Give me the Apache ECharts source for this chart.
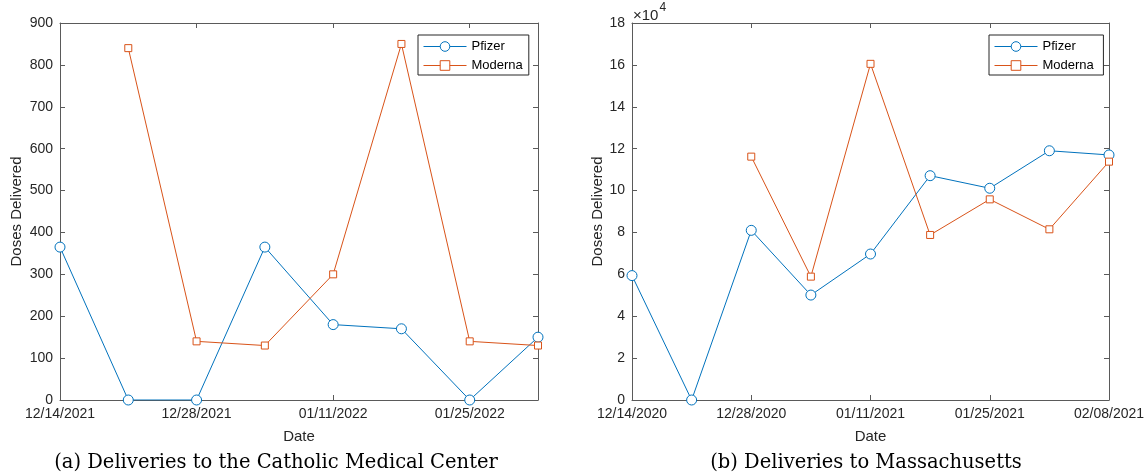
<!DOCTYPE html>
<html>
<head>
<meta charset="utf-8">
<script src="https://cdn.jsdelivr.net/npm/echarts@6/dist/echarts.min.js"></script>
<style>
html,body{margin:0;padding:0;background:#fff;}
#chart{width:1148px;height:475px;}
</style>
</head>
<body>
<div id="chart"></div>
<script>
// ---- data ----
const datesA = ['12/14/2021','12/21/2021','12/28/2021','01/04/2022','01/11/2022','01/18/2022','01/25/2022','02/01/2022'];
const pfizerA = [365, 0, 0, 365, 180, 170, 0, 150];
const modernaA = [null, 840, 140, 130, 300, 850, 140, 130];

const datesB = ['12/14/2020','12/21/2020','12/28/2020','01/04/2021','01/11/2021','01/18/2021','01/25/2021','02/01/2021','02/08/2021'];
const pfizerB = [59400, 0, 81000, 50100, 69700, 107100, 101100, 119000, 117000];
const modernaB = [null, null, 116200, 58900, 160500, 78800, 95800, 81500, 113800];

const yTicksA = {min: 0, max: 900, interval: 100};
const yTicksB = {min: 0, max: 180000, interval: 20000};

const captionA = '(a) Deliveries to the Catholic Medical Center';
const captionB = '(b) Deliveries to Massachusetts';

// ---- styles ----
const AX = '#5a5a5a';
const TXT = '#262626';
const BLUE = '#0072BD';
const RED = '#D95319';
const FONT = '"Liberation Sans", Arial, sans-serif';

function xAx(grid, data, top) {
  return {
    type: 'category', gridIndex: grid, data: data, boundaryGap: false,
    position: top ? 'top' : 'bottom',
    name: top ? '' : 'Date', nameLocation: 'middle', nameGap: 29,
    nameTextStyle: {color: TXT, fontSize: 15, fontFamily: FONT},
    axisLine: {show: true, onZero: false, lineStyle: {color: AX, width: 1}},
    axisTick: {show: true, inside: true, length: 5, interval: 1, lineStyle: {color: AX}},
    axisLabel: {show: !top, interval: 1, margin: 7, color: TXT, fontSize: 14, fontFamily: FONT},
    splitLine: {show: false}
  };
}
function yAx(grid, t, right, fmt, gap) {
  return {
    type: 'value', gridIndex: grid, min: t.min, max: t.max, interval: t.interval,
    position: right ? 'right' : 'left',
    name: right ? '' : 'Doses Delivered', nameLocation: 'middle', nameGap: gap,
    nameTextStyle: {color: TXT, fontSize: 15, fontFamily: FONT},
    axisLine: {show: true, onZero: false, lineStyle: {color: AX, width: 1}},
    axisTick: {show: true, inside: true, length: 5, lineStyle: {color: AX}},
    axisLabel: {show: !right, margin: 7, color: TXT, fontSize: 14, fontFamily: FONT, formatter: fmt},
    splitLine: {show: false}
  };
}
function ser(name, data, xi, yi, color, symbol, size) {
  return {
    type: 'line', name: name, data: data, xAxisIndex: xi, yAxisIndex: yi,
    symbol: symbol, symbolSize: size, showAllSymbol: true,
    lineStyle: {color: color, width: 1},
    itemStyle: {color: '#fff', borderColor: color, borderWidth: 1},
    emphasis: {disabled: true}
  };
}
function legend(left, names) {
  return {
    orient: 'vertical', left: left, top: 35,
    data: names,
    padding: [5, 6, 3, 5], itemGap: 6, itemWidth: 43, itemHeight: 12,
    borderColor: '#262626', borderWidth: 1, backgroundColor: '#fff',
    lineStyle: {width: 1},
    itemStyle: {borderWidth: 1},
    textStyle: {color: '#000', fontSize: 13, fontFamily: FONT},
    selectedMode: false
  };
}
const capStyle = {fontFamily: '"DejaVu Serif", serif', fontWeight: 'normal', fontSize: 19.5, color: '#000'};

const option = {
  animation: false,
  backgroundColor: '#fff',
  grid: [
    {left: 60, top: 23, width: 478, height: 377},
    {left: 632, top: 23, width: 477, height: 377}
  ],
  xAxis: [xAx(0, datesA, false), xAx(0, datesA, true), xAx(1, datesB, false), xAx(1, datesB, true)],
  yAxis: [
    yAx(0, yTicksA, false, null, 36),
    yAx(0, yTicksA, true, null, 36),
    yAx(1, yTicksB, false, v => String(v / 10000), 27),
    yAx(1, yTicksB, true, null, 27)
  ],
  legend: [
    legend(418, ['Pfizer', 'Moderna']),
    legend(989, ['Pfizer ', 'Moderna '])
  ],
  title: [
    {text: captionA, left: 276, top: 453, padding: 0, textAlign: 'center', textStyle: capStyle},
    {text: captionB, left: 866, top: 453, padding: 0, textAlign: 'center', textStyle: capStyle},
    {text: '{a|×10}{b|4}', left: 633, top: 2, padding: 0,
     textStyle: {fontWeight: 'normal', rich: {
       a: {fontFamily: FONT, fontSize: 15, fontWeight: 'normal', color: TXT, verticalAlign: 'bottom', padding: [6,0,0,0]},
       b: {fontFamily: FONT, fontSize: 12, fontWeight: 'normal', color: TXT, verticalAlign: 'top', padding: [0,0,0,1]}
     }}}
  ],
  series: [
    ser('Pfizer', pfizerA, 0, 0, BLUE, 'circle', 10),
    ser('Moderna', modernaA, 0, 0, RED, 'rect', 7),
    ser('Pfizer ', pfizerB, 2, 2, BLUE, 'circle', 10),
    ser('Moderna ', modernaB, 2, 2, RED, 'rect', 7)
  ]
};

const chart = echarts.init(document.getElementById('chart'), null, {renderer: 'canvas'});
chart.setOption(option);
</script>
</body>
</html>
